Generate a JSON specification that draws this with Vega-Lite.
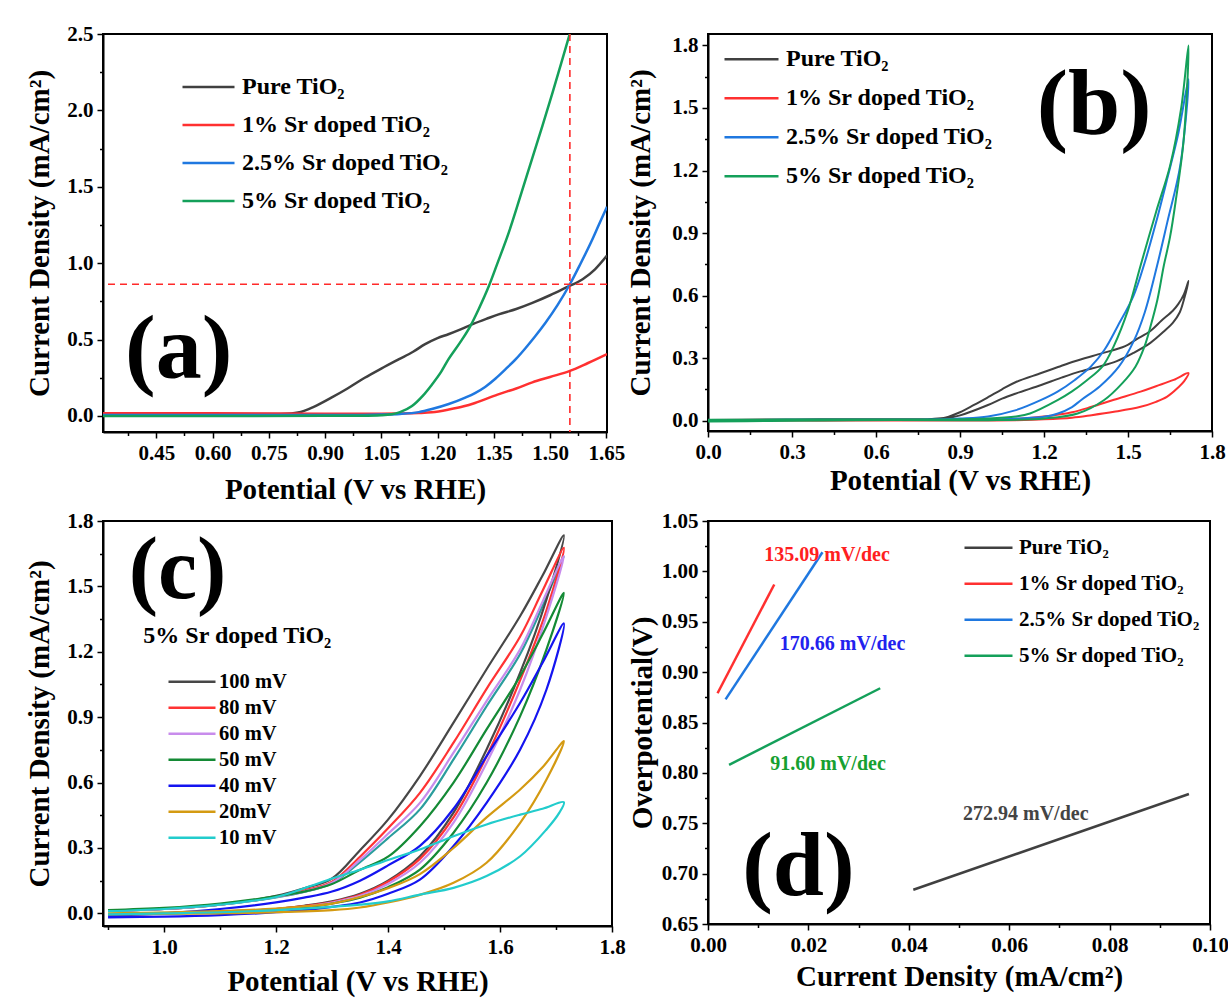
{
  "$schema": "https://vega.github.io/schema/vega-lite/v6.json",
  "background": "white",
  "padding": {"left": 24, "top": 22, "right": 0, "bottom": 5},
  "config": {
    "font": "Liberation Serif",
    "view": {"stroke": "black", "strokeWidth": 2},
    "axis": {
      "labelFont": "Liberation Serif", "labelFontSize": 21, "labelFontWeight": "bold", "labelColor": "black",
      "titleFont": "Liberation Serif", "titleFontSize": 29, "titleFontWeight": "bold", "titleColor": "black",
      "domainColor": "black", "domainWidth": 2, "tickColor": "black", "tickWidth": 1.5, "tickSize": 6,
      "grid": false, "labelPadding": 4, "titlePadding": 12, "labelFlush": false
    },
    "legend": {
      "labelFont": "Liberation Serif", "labelFontWeight": "bold", "labelColor": "black",
      "symbolType": "stroke", "padding": 0, "labelLimit": 400, "symbolOpacity": 1, "rowPadding": 0
    }
  },
  "datasets": {
    "a": [
      {"s":"Pure TiO₂","v":0.3,"j":0.012},{"s":"Pure TiO₂","v":0.45,"j":0.012},{"s":"Pure TiO₂","v":0.6,"j":0.012},{"s":"Pure TiO₂","v":0.7,"j":0.012},{"s":"Pure TiO₂","v":0.78,"j":0.013},{"s":"Pure TiO₂","v":0.81,"j":0.016},{"s":"Pure TiO₂","v":0.828,"j":0.022},{"s":"Pure TiO₂","v":0.87,"j":0.06},{"s":"Pure TiO₂","v":0.917,"j":0.12},{"s":"Pure TiO₂","v":0.96,"j":0.18},{"s":"Pure TiO₂","v":1.006,"j":0.25},{"s":"Pure TiO₂","v":1.05,"j":0.31},{"s":"Pure TiO₂","v":1.096,"j":0.37},{"s":"Pure TiO₂","v":1.135,"j":0.42},{"s":"Pure TiO₂","v":1.167,"j":0.47},{"s":"Pure TiO₂","v":1.2,"j":0.51},{"s":"Pure TiO₂","v":1.229,"j":0.535},{"s":"Pure TiO₂","v":1.26,"j":0.565},{"s":"Pure TiO₂","v":1.292,"j":0.6},{"s":"Pure TiO₂","v":1.33,"j":0.635},{"s":"Pure TiO₂","v":1.363,"j":0.665},{"s":"Pure TiO₂","v":1.41,"j":0.7},{"s":"Pure TiO₂","v":1.453,"j":0.74},{"s":"Pure TiO₂","v":1.5,"j":0.79},{"s":"Pure TiO₂","v":1.542,"j":0.84},{"s":"Pure TiO₂","v":1.587,"j":0.895},{"s":"Pure TiO₂","v":1.62,"j":0.96},{"s":"Pure TiO₂","v":1.652,"j":1.05},
      {"s":"1% Sr doped TiO₂","v":0.3,"j":0.018},{"s":"1% Sr doped TiO₂","v":0.6,"j":0.017},{"s":"1% Sr doped TiO₂","v":0.9,"j":0.015},{"s":"1% Sr doped TiO₂","v":1.05,"j":0.015},{"s":"1% Sr doped TiO₂","v":1.1,"j":0.016},{"s":"1% Sr doped TiO₂","v":1.15,"j":0.019},{"s":"1% Sr doped TiO₂","v":1.185,"j":0.024},{"s":"1% Sr doped TiO₂","v":1.23,"j":0.042},{"s":"1% Sr doped TiO₂","v":1.27,"j":0.063},{"s":"1% Sr doped TiO₂","v":1.3,"j":0.085},{"s":"1% Sr doped TiO₂","v":1.36,"j":0.14},{"s":"1% Sr doped TiO₂","v":1.41,"j":0.18},{"s":"1% Sr doped TiO₂","v":1.453,"j":0.22},{"s":"1% Sr doped TiO₂","v":1.5,"j":0.255},{"s":"1% Sr doped TiO₂","v":1.553,"j":0.295},{"s":"1% Sr doped TiO₂","v":1.6,"j":0.345},{"s":"1% Sr doped TiO₂","v":1.652,"j":0.405},
      {"s":"2.5% Sr doped TiO₂","v":0.3,"j":0.006},{"s":"2.5% Sr doped TiO₂","v":0.6,"j":0.006},{"s":"2.5% Sr doped TiO₂","v":0.9,"j":0.006},{"s":"2.5% Sr doped TiO₂","v":1.0,"j":0.007},{"s":"2.5% Sr doped TiO₂","v":1.05,"j":0.009},{"s":"2.5% Sr doped TiO₂","v":1.1,"j":0.013},{"s":"2.5% Sr doped TiO₂","v":1.15,"j":0.025},{"s":"2.5% Sr doped TiO₂","v":1.185,"j":0.045},{"s":"2.5% Sr doped TiO₂","v":1.23,"j":0.078},{"s":"2.5% Sr doped TiO₂","v":1.274,"j":0.12},{"s":"2.5% Sr doped TiO₂","v":1.3,"j":0.15},{"s":"2.5% Sr doped TiO₂","v":1.327,"j":0.19},{"s":"2.5% Sr doped TiO₂","v":1.355,"j":0.245},{"s":"2.5% Sr doped TiO₂","v":1.381,"j":0.305},{"s":"2.5% Sr doped TiO₂","v":1.41,"j":0.375},{"s":"2.5% Sr doped TiO₂","v":1.435,"j":0.445},{"s":"2.5% Sr doped TiO₂","v":1.46,"j":0.52},{"s":"2.5% Sr doped TiO₂","v":1.488,"j":0.61},{"s":"2.5% Sr doped TiO₂","v":1.52,"j":0.725},{"s":"2.5% Sr doped TiO₂","v":1.553,"j":0.862},{"s":"2.5% Sr doped TiO₂","v":1.58,"j":0.99},{"s":"2.5% Sr doped TiO₂","v":1.61,"j":1.14},{"s":"2.5% Sr doped TiO₂","v":1.63,"j":1.25},{"s":"2.5% Sr doped TiO₂","v":1.652,"j":1.37},
      {"s":"5% Sr doped TiO₂","v":0.3,"j":0.0},{"s":"5% Sr doped TiO₂","v":0.6,"j":0.0},{"s":"5% Sr doped TiO₂","v":0.9,"j":0.001},{"s":"5% Sr doped TiO₂","v":1.0,"j":0.002},{"s":"5% Sr doped TiO₂","v":1.05,"j":0.005},{"s":"5% Sr doped TiO₂","v":1.078,"j":0.011},{"s":"5% Sr doped TiO₂","v":1.1,"j":0.025},{"s":"5% Sr doped TiO₂","v":1.132,"j":0.065},{"s":"5% Sr doped TiO₂","v":1.16,"j":0.13},{"s":"5% Sr doped TiO₂","v":1.185,"j":0.205},{"s":"5% Sr doped TiO₂","v":1.21,"j":0.29},{"s":"5% Sr doped TiO₂","v":1.229,"j":0.37},{"s":"5% Sr doped TiO₂","v":1.26,"j":0.48},{"s":"5% Sr doped TiO₂","v":1.288,"j":0.59},{"s":"5% Sr doped TiO₂","v":1.31,"j":0.7},{"s":"5% Sr doped TiO₂","v":1.337,"j":0.85},{"s":"5% Sr doped TiO₂","v":1.36,"j":1.0},{"s":"5% Sr doped TiO₂","v":1.39,"j":1.2},{"s":"5% Sr doped TiO₂","v":1.42,"j":1.43},{"s":"5% Sr doped TiO₂","v":1.453,"j":1.69},{"s":"5% Sr doped TiO₂","v":1.48,"j":1.9},{"s":"5% Sr doped TiO₂","v":1.506,"j":2.11},{"s":"5% Sr doped TiO₂","v":1.53,"j":2.31},{"s":"5% Sr doped TiO₂","v":1.555,"j":2.52}
    ],
    "b": [
      {"s":"Pure TiO₂","v":0,"j":0.0},{"s":"Pure TiO₂","v":0.2,"j":0.003},{"s":"Pure TiO₂","v":0.4,"j":0.002},{"s":"Pure TiO₂","v":0.6,"j":0.004},{"s":"Pure TiO₂","v":0.8,"j":0.005},{"s":"Pure TiO₂","v":0.85,"j":0.01},{"s":"Pure TiO₂","v":0.9,"j":0.025},{"s":"Pure TiO₂","v":1.0,"j":0.075},{"s":"Pure TiO₂","v":1.05,"j":0.105},{"s":"Pure TiO₂","v":1.1,"j":0.13},{"s":"Pure TiO₂","v":1.19,"j":0.171},{"s":"Pure TiO₂","v":1.26,"j":0.205},{"s":"Pure TiO₂","v":1.33,"j":0.236},{"s":"Pure TiO₂","v":1.4,"j":0.26},{"s":"Pure TiO₂","v":1.46,"j":0.285},{"s":"Pure TiO₂","v":1.52,"j":0.325},{"s":"Pure TiO₂","v":1.58,"j":0.373},{"s":"Pure TiO₂","v":1.63,"j":0.43},{"s":"Pure TiO₂","v":1.66,"j":0.469},{"s":"Pure TiO₂","v":1.685,"j":0.52},{"s":"Pure TiO₂","v":1.7,"j":0.582},{"s":"Pure TiO₂","v":1.716,"j":0.67},
      {"s":"Pure TiO₂","v":1.7,"j":0.607},{"s":"Pure TiO₂","v":1.68,"j":0.56},{"s":"Pure TiO₂","v":1.66,"j":0.527},{"s":"Pure TiO₂","v":1.62,"j":0.48},{"s":"Pure TiO₂","v":1.58,"j":0.43},{"s":"Pure TiO₂","v":1.53,"j":0.39},{"s":"Pure TiO₂","v":1.49,"j":0.357},{"s":"Pure TiO₂","v":1.4,"j":0.32},{"s":"Pure TiO₂","v":1.31,"j":0.285},{"s":"Pure TiO₂","v":1.25,"j":0.257},{"s":"Pure TiO₂","v":1.19,"j":0.228},{"s":"Pure TiO₂","v":1.1,"j":0.185},{"s":"Pure TiO₂","v":1.05,"j":0.15},{"s":"Pure TiO₂","v":1.0,"j":0.112},{"s":"Pure TiO₂","v":0.95,"j":0.075},{"s":"Pure TiO₂","v":0.9,"j":0.04},{"s":"Pure TiO₂","v":0.85,"j":0.015},{"s":"Pure TiO₂","v":0.8,"j":0.008},{"s":"Pure TiO₂","v":0.6,"j":0.006},{"s":"Pure TiO₂","v":0.4,"j":0.006},{"s":"Pure TiO₂","v":0.2,"j":0.005},{"s":"Pure TiO₂","v":0.0,"j":0.003},
      {"s":"1% Sr doped TiO₂","v":0,"j":0.0},{"s":"1% Sr doped TiO₂","v":0.5,"j":0.0},{"s":"1% Sr doped TiO₂","v":0.9,"j":0.0},{"s":"1% Sr doped TiO₂","v":1.0,"j":0.0},{"s":"1% Sr doped TiO₂","v":1.1,"j":0.002},{"s":"1% Sr doped TiO₂","v":1.2,"j":0.006},{"s":"1% Sr doped TiO₂","v":1.3,"j":0.014},{"s":"1% Sr doped TiO₂","v":1.37,"j":0.026},{"s":"1% Sr doped TiO₂","v":1.45,"j":0.042},{"s":"1% Sr doped TiO₂","v":1.545,"j":0.066},{"s":"1% Sr doped TiO₂","v":1.6,"j":0.09},{"s":"1% Sr doped TiO₂","v":1.64,"j":0.115},{"s":"1% Sr doped TiO₂","v":1.68,"j":0.16},{"s":"1% Sr doped TiO₂","v":1.7,"j":0.188},{"s":"1% Sr doped TiO₂","v":1.716,"j":0.228},
      {"s":"1% Sr doped TiO₂","v":1.663,"j":0.195},{"s":"1% Sr doped TiO₂","v":1.6,"j":0.165},{"s":"1% Sr doped TiO₂","v":1.545,"j":0.139},{"s":"1% Sr doped TiO₂","v":1.45,"j":0.1},{"s":"1% Sr doped TiO₂","v":1.37,"j":0.066},{"s":"1% Sr doped TiO₂","v":1.3,"j":0.04},{"s":"1% Sr doped TiO₂","v":1.19,"j":0.018},{"s":"1% Sr doped TiO₂","v":1.1,"j":0.008},{"s":"1% Sr doped TiO₂","v":1.0,"j":0.004},{"s":"1% Sr doped TiO₂","v":0.9,"j":0.002},{"s":"1% Sr doped TiO₂","v":0.5,"j":0.001},{"s":"1% Sr doped TiO₂","v":0.0,"j":0.0},
      {"s":"2.5% Sr doped TiO₂","v":0,"j":0.002},{"s":"2.5% Sr doped TiO₂","v":0.5,"j":0.003},{"s":"2.5% Sr doped TiO₂","v":0.9,"j":0.004},{"s":"2.5% Sr doped TiO₂","v":1.0,"j":0.005},{"s":"2.5% Sr doped TiO₂","v":1.1,"j":0.01},{"s":"2.5% Sr doped TiO₂","v":1.2,"j":0.018},{"s":"2.5% Sr doped TiO₂","v":1.25,"j":0.034},{"s":"2.5% Sr doped TiO₂","v":1.3,"j":0.065},{"s":"2.5% Sr doped TiO₂","v":1.333,"j":0.099},{"s":"2.5% Sr doped TiO₂","v":1.4,"j":0.165},{"s":"2.5% Sr doped TiO₂","v":1.468,"j":0.26},{"s":"2.5% Sr doped TiO₂","v":1.52,"j":0.38},{"s":"2.5% Sr doped TiO₂","v":1.56,"j":0.52},{"s":"2.5% Sr doped TiO₂","v":1.604,"j":0.744},{"s":"2.5% Sr doped TiO₂","v":1.64,"j":0.95},{"s":"2.5% Sr doped TiO₂","v":1.687,"j":1.227},{"s":"2.5% Sr doped TiO₂","v":1.716,"j":1.638},
      {"s":"2.5% Sr doped TiO₂","v":1.68,"j":1.38},{"s":"2.5% Sr doped TiO₂","v":1.64,"j":1.16},{"s":"2.5% Sr doped TiO₂","v":1.6,"j":0.95},{"s":"2.5% Sr doped TiO₂","v":1.56,"j":0.76},{"s":"2.5% Sr doped TiO₂","v":1.52,"j":0.6},{"s":"2.5% Sr doped TiO₂","v":1.463,"j":0.453},{"s":"2.5% Sr doped TiO₂","v":1.416,"j":0.34},{"s":"2.5% Sr doped TiO₂","v":1.368,"j":0.26},{"s":"2.5% Sr doped TiO₂","v":1.31,"j":0.195},{"s":"2.5% Sr doped TiO₂","v":1.25,"j":0.14},{"s":"2.5% Sr doped TiO₂","v":1.19,"j":0.099},{"s":"2.5% Sr doped TiO₂","v":1.1,"j":0.05},{"s":"2.5% Sr doped TiO₂","v":1.0,"j":0.02},{"s":"2.5% Sr doped TiO₂","v":0.9,"j":0.01},{"s":"2.5% Sr doped TiO₂","v":0.8,"j":0.005},{"s":"2.5% Sr doped TiO₂","v":0.5,"j":0.004},{"s":"2.5% Sr doped TiO₂","v":0.0,"j":0.003},
      {"s":"5% Sr doped TiO₂","v":0,"j":-0.005},{"s":"5% Sr doped TiO₂","v":0.22,"j":-0.002},{"s":"5% Sr doped TiO₂","v":0.5,"j":0.002},{"s":"5% Sr doped TiO₂","v":0.9,"j":0.002},{"s":"5% Sr doped TiO₂","v":1.0,"j":0.002},{"s":"5% Sr doped TiO₂","v":1.2,"j":0.01},{"s":"5% Sr doped TiO₂","v":1.32,"j":0.034},{"s":"5% Sr doped TiO₂","v":1.415,"j":0.099},{"s":"5% Sr doped TiO₂","v":1.48,"j":0.18},{"s":"5% Sr doped TiO₂","v":1.527,"j":0.26},{"s":"5% Sr doped TiO₂","v":1.56,"j":0.36},{"s":"5% Sr doped TiO₂","v":1.58,"j":0.45},{"s":"5% Sr doped TiO₂","v":1.605,"j":0.58},{"s":"5% Sr doped TiO₂","v":1.628,"j":0.744},{"s":"5% Sr doped TiO₂","v":1.65,"j":0.88},{"s":"5% Sr doped TiO₂","v":1.67,"j":1.05},{"s":"5% Sr doped TiO₂","v":1.699,"j":1.35},{"s":"5% Sr doped TiO₂","v":1.716,"j":1.8},
      {"s":"5% Sr doped TiO₂","v":1.69,"j":1.5},{"s":"5% Sr doped TiO₂","v":1.651,"j":1.227},{"s":"5% Sr doped TiO₂","v":1.6,"j":1.0},{"s":"5% Sr doped TiO₂","v":1.545,"j":0.744},{"s":"5% Sr doped TiO₂","v":1.5,"j":0.53},{"s":"5% Sr doped TiO₂","v":1.45,"j":0.36},{"s":"5% Sr doped TiO₂","v":1.409,"j":0.26},{"s":"5% Sr doped TiO₂","v":1.35,"j":0.19},{"s":"5% Sr doped TiO₂","v":1.3,"j":0.14},{"s":"5% Sr doped TiO₂","v":1.25,"j":0.099},{"s":"5% Sr doped TiO₂","v":1.15,"j":0.034},{"s":"5% Sr doped TiO₂","v":1.1,"j":0.02},{"s":"5% Sr doped TiO₂","v":1.0,"j":0.01},{"s":"5% Sr doped TiO₂","v":0.8,"j":0.005},{"s":"5% Sr doped TiO₂","v":0.5,"j":0.005},{"s":"5% Sr doped TiO₂","v":0.0,"j":0.004}
    ],
    "c": [
      {"s":"60 mV ","v":0.9,"j":0.012},{"s":"60 mV ","v":1.0,"j":0.02},{"s":"60 mV ","v":1.1,"j":0.04},{"s":"60 mV ","v":1.2,"j":0.073},{"s":"60 mV ","v":1.25,"j":0.098},{"s":"60 mV ","v":1.3,"j":0.138},{"s":"60 mV ","v":1.35,"j":0.235},{"s":"60 mV ","v":1.4,"j":0.345},{"s":"60 mV ","v":1.457,"j":0.477},{"s":"60 mV ","v":1.517,"j":0.706},{"s":"60 mV ","v":1.576,"j":0.95},{"s":"60 mV ","v":1.636,"j":1.19},{"s":"60 mV ","v":1.676,"j":1.41},{"s":"60 mV ","v":1.714,"j":1.639},
      {"s":"100 mV","v":0.9,"j":-0.005},{"s":"100 mV","v":1.0,"j":0.0},{"s":"100 mV","v":1.1,"j":0.008},{"s":"100 mV","v":1.2,"j":0.02},{"s":"100 mV","v":1.25,"j":0.035},{"s":"100 mV","v":1.3,"j":0.055},{"s":"100 mV","v":1.35,"j":0.09},{"s":"100 mV","v":1.4,"j":0.15},{"s":"100 mV","v":1.457,"j":0.262},{"s":"100 mV","v":1.517,"j":0.462},{"s":"100 mV","v":1.576,"j":0.752},{"s":"100 mV","v":1.636,"j":1.104},{"s":"100 mV","v":1.683,"j":1.44},{"s":"100 mV","v":1.714,"j":1.734},
      {"s":"100 mV","v":1.676,"j":1.55},{"s":"100 mV","v":1.636,"j":1.364},{"s":"100 mV","v":1.576,"j":1.12},{"s":"100 mV","v":1.517,"j":0.875},{"s":"100 mV","v":1.457,"j":0.63},{"s":"100 mV","v":1.4,"j":0.43},{"s":"100 mV","v":1.35,"j":0.29},{"s":"100 mV","v":1.3,"j":0.16},{"s":"100 mV","v":1.25,"j":0.115},{"s":"100 mV","v":1.2,"j":0.08},{"s":"100 mV","v":1.1,"j":0.04},{"s":"100 mV","v":1.0,"j":0.02},{"s":"100 mV","v":0.9,"j":0.012},
      {"s":"80 mV","v":0.9,"j":-0.005},{"s":"80 mV","v":1.0,"j":0.0},{"s":"80 mV","v":1.1,"j":0.007},{"s":"80 mV","v":1.2,"j":0.02},{"s":"80 mV","v":1.25,"j":0.033},{"s":"80 mV","v":1.3,"j":0.052},{"s":"80 mV","v":1.35,"j":0.085},{"s":"80 mV","v":1.4,"j":0.145},{"s":"80 mV","v":1.457,"j":0.25},{"s":"80 mV","v":1.517,"j":0.44},{"s":"80 mV","v":1.576,"j":0.72},{"s":"80 mV","v":1.636,"j":1.07},{"s":"80 mV","v":1.683,"j":1.39},{"s":"80 mV","v":1.714,"j":1.677},
      {"s":"80 mV","v":1.676,"j":1.48},{"s":"80 mV","v":1.636,"j":1.27},{"s":"80 mV","v":1.576,"j":1.03},{"s":"80 mV","v":1.517,"j":0.783},{"s":"80 mV","v":1.457,"j":0.553},{"s":"80 mV","v":1.4,"j":0.39},{"s":"80 mV","v":1.35,"j":0.26},{"s":"80 mV","v":1.3,"j":0.145},{"s":"80 mV","v":1.25,"j":0.105},{"s":"80 mV","v":1.2,"j":0.075},{"s":"80 mV","v":1.1,"j":0.04},{"s":"80 mV","v":1.0,"j":0.02},{"s":"80 mV","v":0.9,"j":0.012},
      {"s":"60 mV","v":0.9,"j":-0.005},{"s":"60 mV","v":1.0,"j":0.0},{"s":"60 mV","v":1.1,"j":0.006},{"s":"60 mV","v":1.2,"j":0.018},{"s":"60 mV","v":1.25,"j":0.03},{"s":"60 mV","v":1.3,"j":0.05},{"s":"60 mV","v":1.35,"j":0.08},{"s":"60 mV","v":1.4,"j":0.135},{"s":"60 mV","v":1.457,"j":0.232},{"s":"60 mV","v":1.517,"j":0.416},{"s":"60 mV","v":1.576,"j":0.69},{"s":"60 mV","v":1.636,"j":1.027},{"s":"60 mV","v":1.683,"j":1.364},{"s":"60 mV","v":1.714,"j":1.639},
      {"s":"60 mV","v":1.676,"j":1.43},{"s":"60 mV","v":1.636,"j":1.211},{"s":"60 mV","v":1.576,"j":0.974},{"s":"60 mV","v":1.517,"j":0.737},{"s":"60 mV","v":1.457,"j":0.507},{"s":"60 mV","v":1.4,"j":0.365},{"s":"60 mV","v":1.35,"j":0.245},{"s":"60 mV","v":1.3,"j":0.14},{"s":"60 mV","v":1.25,"j":0.1},{"s":"60 mV","v":1.2,"j":0.075},{"s":"60 mV","v":1.1,"j":0.04},{"s":"60 mV","v":1.0,"j":0.02},{"s":"60 mV","v":0.9,"j":0.012},
      {"s":"50 mV","v":0.9,"j":-0.003},{"s":"50 mV","v":1.0,"j":0.002},{"s":"50 mV","v":1.1,"j":0.006},{"s":"50 mV","v":1.2,"j":0.016},{"s":"50 mV","v":1.25,"j":0.027},{"s":"50 mV","v":1.3,"j":0.045},{"s":"50 mV","v":1.35,"j":0.072},{"s":"50 mV","v":1.4,"j":0.12},{"s":"50 mV","v":1.457,"j":0.201},{"s":"50 mV","v":1.517,"j":0.37},{"s":"50 mV","v":1.576,"j":0.599},{"s":"50 mV","v":1.636,"j":0.905},{"s":"50 mV","v":1.683,"j":1.211},{"s":"50 mV","v":1.714,"j":1.47},
      {"s":"50 mV","v":1.676,"j":1.28},{"s":"50 mV","v":1.636,"j":1.089},{"s":"50 mV","v":1.576,"j":0.844},{"s":"50 mV","v":1.517,"j":0.6},{"s":"50 mV","v":1.457,"j":0.4},{"s":"50 mV","v":1.4,"j":0.26},{"s":"50 mV","v":1.35,"j":0.2},{"s":"50 mV","v":1.3,"j":0.135},{"s":"50 mV","v":1.25,"j":0.1},{"s":"50 mV","v":1.2,"j":0.078},{"s":"50 mV","v":1.1,"j":0.045},{"s":"50 mV","v":1.0,"j":0.025},{"s":"50 mV","v":0.9,"j":0.015},
      {"s":"40 mV","v":0.9,"j":-0.018},{"s":"40 mV","v":1.0,"j":-0.015},{"s":"40 mV","v":1.1,"j":-0.008},{"s":"40 mV","v":1.2,"j":0.005},{"s":"40 mV","v":1.25,"j":0.015},{"s":"40 mV","v":1.3,"j":0.03},{"s":"40 mV","v":1.35,"j":0.05},{"s":"40 mV","v":1.4,"j":0.09},{"s":"40 mV","v":1.457,"j":0.155},{"s":"40 mV","v":1.517,"j":0.309},{"s":"40 mV","v":1.576,"j":0.507},{"s":"40 mV","v":1.636,"j":0.752},{"s":"40 mV","v":1.683,"j":1.027},{"s":"40 mV","v":1.714,"j":1.33},
      {"s":"40 mV","v":1.676,"j":1.15},{"s":"40 mV","v":1.636,"j":0.966},{"s":"40 mV","v":1.576,"j":0.721},{"s":"40 mV","v":1.517,"j":0.48},{"s":"40 mV","v":1.457,"j":0.31},{"s":"40 mV","v":1.4,"j":0.22},{"s":"40 mV","v":1.35,"j":0.15},{"s":"40 mV","v":1.3,"j":0.1},{"s":"40 mV","v":1.25,"j":0.072},{"s":"40 mV","v":1.2,"j":0.05},{"s":"40 mV","v":1.1,"j":0.02},{"s":"40 mV","v":1.0,"j":0.0},{"s":"40 mV","v":0.9,"j":-0.01},
      {"s":"20mV","v":0.9,"j":-0.005},{"s":"20mV","v":1.0,"j":-0.003},{"s":"20mV","v":1.1,"j":0.0},{"s":"20mV","v":1.2,"j":0.005},{"s":"20mV","v":1.3,"j":0.015},{"s":"20mV","v":1.35,"j":0.027},{"s":"20mV","v":1.4,"j":0.05},{"s":"20mV","v":1.457,"j":0.085},{"s":"20mV","v":1.517,"j":0.14},{"s":"20mV","v":1.576,"j":0.232},{"s":"20mV","v":1.636,"j":0.415},{"s":"20mV","v":1.683,"j":0.614},{"s":"20mV","v":1.714,"j":0.79},
      {"s":"20mV","v":1.676,"j":0.67},{"s":"20mV","v":1.636,"j":0.568},{"s":"20mV","v":1.576,"j":0.44},{"s":"20mV","v":1.517,"j":0.3},{"s":"20mV","v":1.457,"j":0.18},{"s":"20mV","v":1.4,"j":0.115},{"s":"20mV","v":1.35,"j":0.075},{"s":"20mV","v":1.3,"j":0.045},{"s":"20mV","v":1.25,"j":0.032},{"s":"20mV","v":1.2,"j":0.022},{"s":"20mV","v":1.1,"j":0.01},{"s":"20mV","v":1.0,"j":0.004},{"s":"20mV","v":0.9,"j":0.0},
      {"s":"10 mV","v":0.9,"j":-0.005},{"s":"10 mV","v":1.0,"j":0.0},{"s":"10 mV","v":1.1,"j":0.005},{"s":"10 mV","v":1.2,"j":0.015},{"s":"10 mV","v":1.3,"j":0.03},{"s":"10 mV","v":1.35,"j":0.04},{"s":"10 mV","v":1.4,"j":0.055},{"s":"10 mV","v":1.457,"j":0.086},{"s":"10 mV","v":1.517,"j":0.117},{"s":"10 mV","v":1.576,"j":0.171},{"s":"10 mV","v":1.636,"j":0.262},{"s":"10 mV","v":1.683,"j":0.385},{"s":"10 mV","v":1.706,"j":0.462},{"s":"10 mV","v":1.714,"j":0.51},
      {"s":"10 mV","v":1.676,"j":0.48},{"s":"10 mV","v":1.636,"j":0.453},{"s":"10 mV","v":1.576,"j":0.408},{"s":"10 mV","v":1.517,"j":0.354},{"s":"10 mV","v":1.457,"j":0.293},{"s":"10 mV","v":1.4,"j":0.245},{"s":"10 mV","v":1.35,"j":0.2},{"s":"10 mV","v":1.3,"j":0.16},{"s":"10 mV","v":1.26,"j":0.124},{"s":"10 mV","v":1.2,"j":0.075},{"s":"10 mV","v":1.1,"j":0.04},{"s":"10 mV","v":1.0,"j":0.02},{"s":"10 mV","v":0.9,"j":0.01}
    ],
    "d": [
      {"s":"Pure TiO₂","cd":0.0409,"op":0.684},{"s":"Pure TiO₂","cd":0.0958,"op":0.779},
      {"s":"1% Sr doped TiO₂","cd":0.0019,"op":0.879},{"s":"1% Sr doped TiO₂","cd":0.0132,"op":0.987},
      {"s":"2.5% Sr doped TiO₂","cd":0.0035,"op":0.873},{"s":"2.5% Sr doped TiO₂","cd":0.0228,"op":1.019},
      {"s":"5% Sr doped TiO₂","cd":0.0042,"op":0.808},{"s":"5% Sr doped TiO₂","cd":0.0343,"op":0.884}
    ]
  },
  "columns": 2,
  "align": "none",
  "spacing": {"row": 89, "column": 96},
  "bounds": "flush",
  "resolve": {"scale": {"color": "independent"}, "legend": {"color": "independent"}},
  "concat": [
    {
      "width": 504, "height": 398,
      "resolve": {"axis": {"x": "independent", "y": "independent"}},
      "layer": [
        {
          "data": {"name": "a"},
          "mark": {"type": "line", "strokeWidth": 2.5, "clip": true, "interpolate": "monotone"},
          "encoding": {
            "x": {"field": "v", "type": "quantitative", "scale": {"domain": [0.308, 1.652], "nice": false, "zero": false},
                  "axis": {"values": [0.45, 0.6, 0.75, 0.9, 1.05, 1.2, 1.35, 1.5, 1.65], "format": ".2f", "title": "Potential (V vs RHE)"}},
            "y": {"field": "j", "type": "quantitative", "scale": {"domain": [-0.105, 2.5], "nice": false, "zero": false},
                  "axis": {"values": [0, 0.5, 1, 1.5, 2, 2.5], "format": ".1f", "title": "Current Density (mA/cm²)"}},
            "color": {"field": "s", "type": "nominal",
                      "scale": {"domain": ["Pure TiO₂", "1% Sr doped TiO₂", "2.5% Sr doped TiO₂", "5% Sr doped TiO₂"], "range": ["#404040", "#ff3030", "#1f78e0", "#14a05a"]},
                      "legend": {"orient": "none", "legendX": 78, "legendY": 34, "title": null, "symbolSize": 2704, "symbolStrokeWidth": 2.5, "labelFontSize": 24, "clipHeight": 38, "rowPadding": 0, "labelOffset": 6}}
          }
        },
        {
          "data": {"name": "a"},
          "mark": {"type": "point", "opacity": 0},
          "encoding": {
            "x": {"field": "v", "type": "quantitative", "scale": {"domain": [0.308, 1.652], "nice": false, "zero": false},
                  "axis": {"orient": "bottom", "values": [0.375, 0.525, 0.675, 0.825, 0.975, 1.125, 1.275, 1.425, 1.575], "labels": false, "domain": false, "tickSize": 3.5, "title": null}},
            "y": {"field": "j", "type": "quantitative", "scale": {"domain": [-0.105, 2.5], "nice": false, "zero": false},
                  "axis": {"orient": "left", "values": [0.25, 0.75, 1.25, 1.75, 2.25], "labels": false, "domain": false, "tickSize": 3.5, "title": null}}
          }
        },
        {"data": {"values": [{}]}, "mark": {"type": "rule", "color": "#ff2a2a", "strokeDash": [7, 5], "strokeWidth": 1.6}, "encoding": {"x": {"datum": 1.553, "axis": null}}},
        {"data": {"values": [{}]}, "mark": {"type": "rule", "color": "#ff2a2a", "strokeDash": [7, 5], "strokeWidth": 1.6}, "encoding": {"y": {"datum": 0.862, "axis": null}}},
        {"data": {"values": [{}]}, "mark": {"type": "text", "fontSize": 92, "fontWeight": "bold", "align": "center", "baseline": "middle", "color": "black"},
         "encoding": {"x": {"datum": 0.51, "axis": null}, "y": {"datum": 0.43, "axis": null}, "text": {"value": "(a)"}}}
      ]
    },
    {
      "width": 504, "height": 397,
      "resolve": {"axis": {"x": "independent", "y": "independent"}},
      "layer": [
        {
          "data": {"name": "b"},
          "mark": {"type": "line", "strokeWidth": 2, "clip": true, "interpolate": "catmull-rom"},
          "encoding": {
            "x": {"field": "v", "type": "quantitative", "scale": {"domain": [0, 1.8], "nice": false, "zero": false},
                  "axis": {"values": [0, 0.3, 0.6, 0.9, 1.2, 1.5, 1.8], "format": ".1f", "title": "Potential (V vs RHE)", "titlePadding": 4}},
            "y": {"field": "j", "type": "quantitative", "scale": {"domain": [-0.05, 1.855], "nice": false, "zero": false},
                  "axis": {"values": [0, 0.3, 0.6, 0.9, 1.2, 1.5, 1.8], "format": ".1f", "title": "Current Density (mA/cm²)", "titlePadding": 16}},
            "order": {"value": null},
            "color": {"field": "s", "type": "nominal",
                      "scale": {"domain": ["Pure TiO₂", "1% Sr doped TiO₂", "2.5% Sr doped TiO₂", "5% Sr doped TiO₂"], "range": ["#404040", "#ff3030", "#1f78e0", "#14a05a"]},
                      "legend": {"orient": "none", "legendX": 15, "legendY": 6, "title": null, "symbolSize": 2916, "symbolStrokeWidth": 2.5, "labelFontSize": 24, "clipHeight": 38.3, "rowPadding": 0, "labelOffset": 6}}
          }
        },
        {
          "data": {"name": "b"},
          "mark": {"type": "point", "opacity": 0},
          "encoding": {
            "x": {"field": "v", "type": "quantitative", "scale": {"domain": [0, 1.8], "nice": false, "zero": false},
                  "axis": {"orient": "bottom", "values": [0.15, 0.45, 0.75, 1.05, 1.35, 1.65], "labels": false, "domain": false, "tickSize": 3.5, "title": null}},
            "y": {"field": "j", "type": "quantitative", "scale": {"domain": [-0.05, 1.855], "nice": false, "zero": false},
                  "axis": {"orient": "left", "values": [0.15, 0.45, 0.75, 1.05, 1.35, 1.65], "labels": false, "domain": false, "tickSize": 3.5, "title": null}}
          }
        },
        {"data": {"values": [{}]}, "mark": {"type": "text", "fontSize": 94, "fontWeight": "bold", "align": "center", "baseline": "middle", "color": "black"},
         "encoding": {"x": {"datum": 1.379, "axis": null}, "y": {"datum": 1.51, "axis": null}, "text": {"value": "(b)"}}}
      ]
    },
    {
      "width": 509, "height": 405,
      "resolve": {"axis": {"x": "independent", "y": "independent"}},
      "layer": [
        {
          "data": {"name": "c"},
          "mark": {"type": "line", "strokeWidth": 2.2, "clip": true, "interpolate": "catmull-rom"},
          "encoding": {
            "x": {"field": "v", "type": "quantitative", "scale": {"domain": [0.891, 1.8], "nice": false, "zero": false},
                  "axis": {"values": [1.0, 1.2, 1.4, 1.6, 1.8], "format": ".1f", "title": "Potential (V vs RHE)", "titlePadding": 10}},
            "y": {"field": "j", "type": "quantitative", "scale": {"domain": [-0.058, 1.8], "nice": false, "zero": false},
                  "axis": {"values": [0, 0.3, 0.6, 0.9, 1.2, 1.5, 1.8], "format": ".1f", "title": "Current Density (mA/cm²)"}},
            "order": {"value": null},
            "color": {"field": "s", "type": "nominal",
                      "scale": {"domain": ["100 mV", "80 mV", "60 mV", "50 mV", "40 mV", "20mV", "10 mV", "60 mV "], "range": ["#474747", "#ff3333", "#c88cec", "#148a35", "#1414f0", "#d49a12", "#22cccc", "#2a9d9d"]},
                      "legend": {"orient": "none", "legendX": 64, "legendY": 148, "title": null, "values": ["100 mV", "80 mV", "60 mV", "50 mV", "40 mV", "20mV", "10 mV"], "symbolSize": 2209, "symbolStrokeWidth": 2.5, "labelFontSize": 20.5, "clipHeight": 25.3, "rowPadding": 0, "labelOffset": 2}}
          }
        },
        {
          "data": {"name": "c"},
          "mark": {"type": "point", "opacity": 0},
          "encoding": {
            "x": {"field": "v", "type": "quantitative", "scale": {"domain": [0.891, 1.8], "nice": false, "zero": false},
                  "axis": {"orient": "bottom", "values": [0.9, 1.1, 1.3, 1.5, 1.7], "labels": false, "domain": false, "tickSize": 3.5, "title": null}},
            "y": {"field": "j", "type": "quantitative", "scale": {"domain": [-0.058, 1.8], "nice": false, "zero": false},
                  "axis": {"orient": "left", "values": [0.15, 0.45, 0.75, 1.05, 1.35, 1.65], "labels": false, "domain": false, "tickSize": 3.5, "title": null}}
          }
        },
        {"data": {"values": [{}]}, "mark": {"type": "text", "fontSize": 88, "fontWeight": "bold", "align": "center", "baseline": "middle", "color": "black"},
         "encoding": {"x": {"datum": 1.024, "axis": null}, "y": {"datum": 1.566, "axis": null}, "text": {"value": "(c)"}}},
        {"data": {"values": [{}]}, "mark": {"type": "text", "fontSize": 24, "fontWeight": "bold", "align": "left", "baseline": "middle", "color": "black"},
         "encoding": {"x": {"datum": 0.963, "axis": null}, "y": {"datum": 1.274, "axis": null}, "text": {"value": "5% Sr doped TiO₂"}}}
      ]
    },
    {
      "width": 502, "height": 403,
      "resolve": {"axis": {"x": "independent", "y": "independent"}},
      "layer": [
        {
          "data": {"name": "d"},
          "mark": {"type": "line", "strokeWidth": 2.5},
          "encoding": {
            "x": {"field": "cd", "type": "quantitative", "scale": {"domain": [0, 0.1], "nice": false, "zero": false},
                  "axis": {"values": [0, 0.02, 0.04, 0.06, 0.08, 0.1], "format": ".2f", "title": "Current Density (mA/cm²)", "titlePadding": 7}},
            "y": {"field": "op", "type": "quantitative", "scale": {"domain": [0.65, 1.05], "nice": false, "zero": false},
                  "axis": {"values": [0.65, 0.7, 0.75, 0.8, 0.85, 0.9, 0.95, 1.0, 1.05], "format": ".2f", "title": "Overpotential(V)", "titlePadding": 4}},
            "color": {"field": "s", "type": "nominal",
                      "scale": {"domain": ["Pure TiO₂", "1% Sr doped TiO₂", "2.5% Sr doped TiO₂", "5% Sr doped TiO₂"], "range": ["#404040", "#ff3030", "#1f78e0", "#14a05a"]},
                      "legend": {"orient": "none", "legendX": 255, "legendY": 9, "title": null, "symbolSize": 2304, "symbolStrokeWidth": 2.5, "labelFontSize": 21, "clipHeight": 35.5, "rowPadding": 0, "labelOffset": 5}}
          }
        },
        {
          "data": {"name": "d"},
          "mark": {"type": "point", "opacity": 0},
          "encoding": {
            "x": {"field": "cd", "type": "quantitative", "scale": {"domain": [0, 0.1], "nice": false, "zero": false},
                  "axis": {"orient": "bottom", "values": [0.01, 0.03, 0.05, 0.07, 0.09], "labels": false, "domain": false, "tickSize": 3.5, "title": null}},
            "y": {"field": "op", "type": "quantitative", "scale": {"domain": [0.65, 1.05], "nice": false, "zero": false},
                  "axis": {"orient": "left", "values": [0.675, 0.725, 0.775, 0.825, 0.875, 0.925, 0.975, 1.025], "labels": false, "domain": false, "tickSize": 3.5, "title": null}}
          }
        },
        {"data": {"values": [{}]}, "mark": {"type": "text", "fontSize": 20, "fontWeight": "bold", "align": "left", "baseline": "middle", "color": "#ff2020"},
         "encoding": {"x": {"datum": 0.0112, "axis": null}, "y": {"datum": 1.016, "axis": null}, "text": {"value": "135.09 mV/dec"}}},
        {"data": {"values": [{}]}, "mark": {"type": "text", "fontSize": 20, "fontWeight": "bold", "align": "left", "baseline": "middle", "color": "#2222ee"},
         "encoding": {"x": {"datum": 0.0143, "axis": null}, "y": {"datum": 0.928, "axis": null}, "text": {"value": "170.66 mV/dec"}}},
        {"data": {"values": [{}]}, "mark": {"type": "text", "fontSize": 20, "fontWeight": "bold", "align": "left", "baseline": "middle", "color": "#16a030"},
         "encoding": {"x": {"datum": 0.0124, "axis": null}, "y": {"datum": 0.809, "axis": null}, "text": {"value": "91.60 mV/dec"}}},
        {"data": {"values": [{}]}, "mark": {"type": "text", "fontSize": 20, "fontWeight": "bold", "align": "left", "baseline": "middle", "color": "#444444"},
         "encoding": {"x": {"datum": 0.0508, "axis": null}, "y": {"datum": 0.759, "axis": null}, "text": {"value": "272.94 mV/dec"}}},
        {"data": {"values": [{}]}, "mark": {"type": "text", "fontSize": 92, "fontWeight": "bold", "align": "center", "baseline": "middle", "color": "black"},
         "encoding": {"x": {"datum": 0.018, "axis": null}, "y": {"datum": 0.707, "axis": null}, "text": {"value": "(d)"}}}
      ]
    }
  ]
}
